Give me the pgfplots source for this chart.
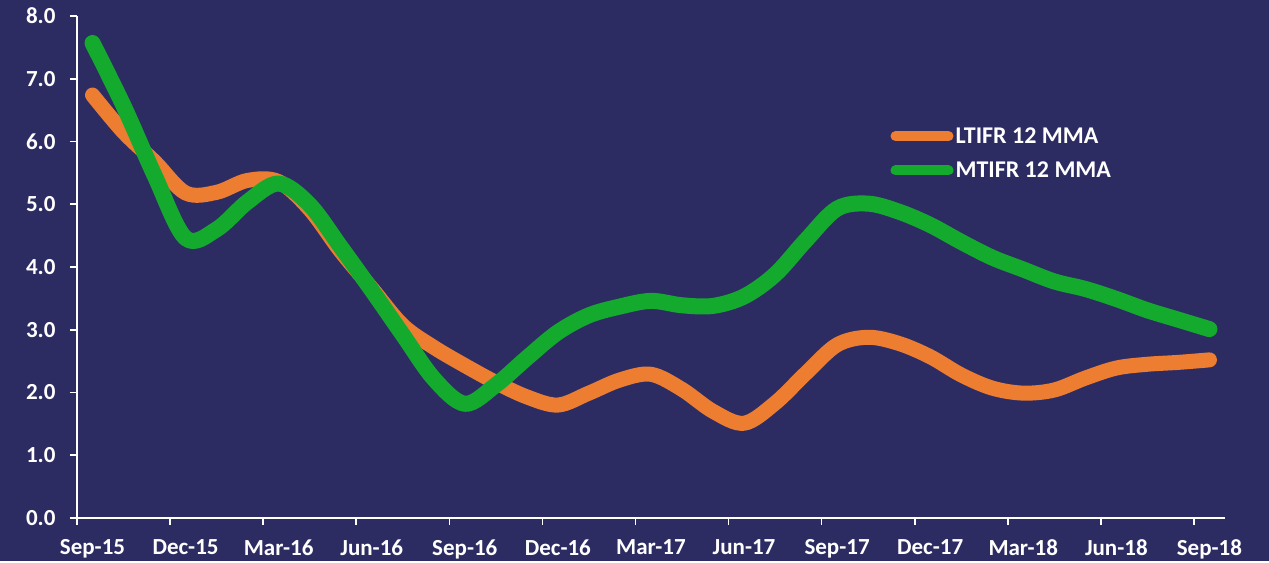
\documentclass[border=0pt]{standalone}
\usepackage{fontspec}
\setmainfont{Carlito}
\usepackage{pgfplots}
\pgfplotsset{compat=1.18}
\definecolor{bg}{RGB}{45,44,98}
\definecolor{lorange}{RGB}{237,125,49}
\definecolor{lgreen}{RGB}{20,170,46}
\begin{document}
\begin{tikzpicture}
\fill[bg] (-77pt,-43pt) rectangle (1192pt,518pt);
\begin{axis}[
  scale only axis, width=1148pt, height=502pt,
  xmin=-0.5, xmax=36.5, ymin=0, ymax=8,
  clip=false,
  axis x line=bottom, axis y line=left,
  axis line style={white, line width=1.6pt, -},
  tick style={white, line width=1.6pt},
  tick align=outside, major tick length=7pt,
  xtick={-0.5,2.5,5.5,8.5,11.5,14.5,17.5,20.5,23.5,26.5,29.5,32.5,35.5},
  xticklabels={Sep-15,Dec-15,Mar-16,Jun-16,Sep-16,Dec-16,Mar-17,Jun-17,Sep-17,Dec-17,Mar-18,Jun-18,Sep-18},
  x tick label style={xshift=15.5pt, yshift=-11pt},
  ytick={0,1,2,3,4,5,6,7,8},
  yticklabels={0.0,1.0,2.0,3.0,4.0,5.0,6.0,7.0,8.0},
  y tick label style={xshift=-11pt},
  ticklabel style={font=\fontsize{23}{27}\selectfont\bfseries, text=white},
  legend style={at={(0.7085,0.782)}, anchor=north west, draw=none, fill=none,
    text=white, font=\fontsize{24}{28}\selectfont\bfseries, inner sep=0pt,
    row sep=13pt, legend cell align=left},
  legend image code/.code={\draw[#1, line width=10pt, line cap=round] (5pt,0pt) -- (58pt,0pt);},
]
\addplot[lorange, line width=15pt, smooth, tension=0.55, line cap=round, line join=round] coordinates {
(0,6.74) (1,6.15) (2,5.68) (3,5.18) (4,5.19) (5,5.38) (6,5.36) (7,4.92) (8,4.25) (9,3.66)
(10,3.07) (11,2.72) (12,2.43) (13,2.16) (14,1.93) (15,1.80) (16,1.99) (17,2.20) (18,2.29) (19,2.05)
(20,1.70) (21,1.51) (22,1.83) (23,2.31) (24,2.76) (25,2.88) (26,2.78) (27,2.57) (28,2.28) (29,2.07)
(30,1.99) (31,2.04) (32,2.23) (33,2.39) (34,2.45) (35,2.48) (36,2.52)
};
\addlegendentry{LTIFR 12 MMA}
\addplot[lgreen, line width=16pt, smooth, tension=0.55, line cap=round, line join=round] coordinates {
(0,7.57) (1,6.57) (2,5.46) (3,4.46) (4,4.60) (5,5.04) (6,5.33) (7,4.99) (8,4.32) (9,3.63)
(10,2.92) (11,2.22) (12,1.82) (13,2.12) (14,2.55) (15,2.96) (16,3.23) (17,3.37) (18,3.46) (19,3.39)
(20,3.38) (21,3.53) (22,3.88) (23,4.43) (24,4.93) (25,5.01) (26,4.88) (27,4.67) (28,4.40) (29,4.15)
(30,3.96) (31,3.77) (32,3.65) (33,3.49) (34,3.31) (35,3.16) (36,3.01)
};
\addlegendentry{MTIFR 12 MMA}
\end{axis}
\end{tikzpicture}
\end{document}
